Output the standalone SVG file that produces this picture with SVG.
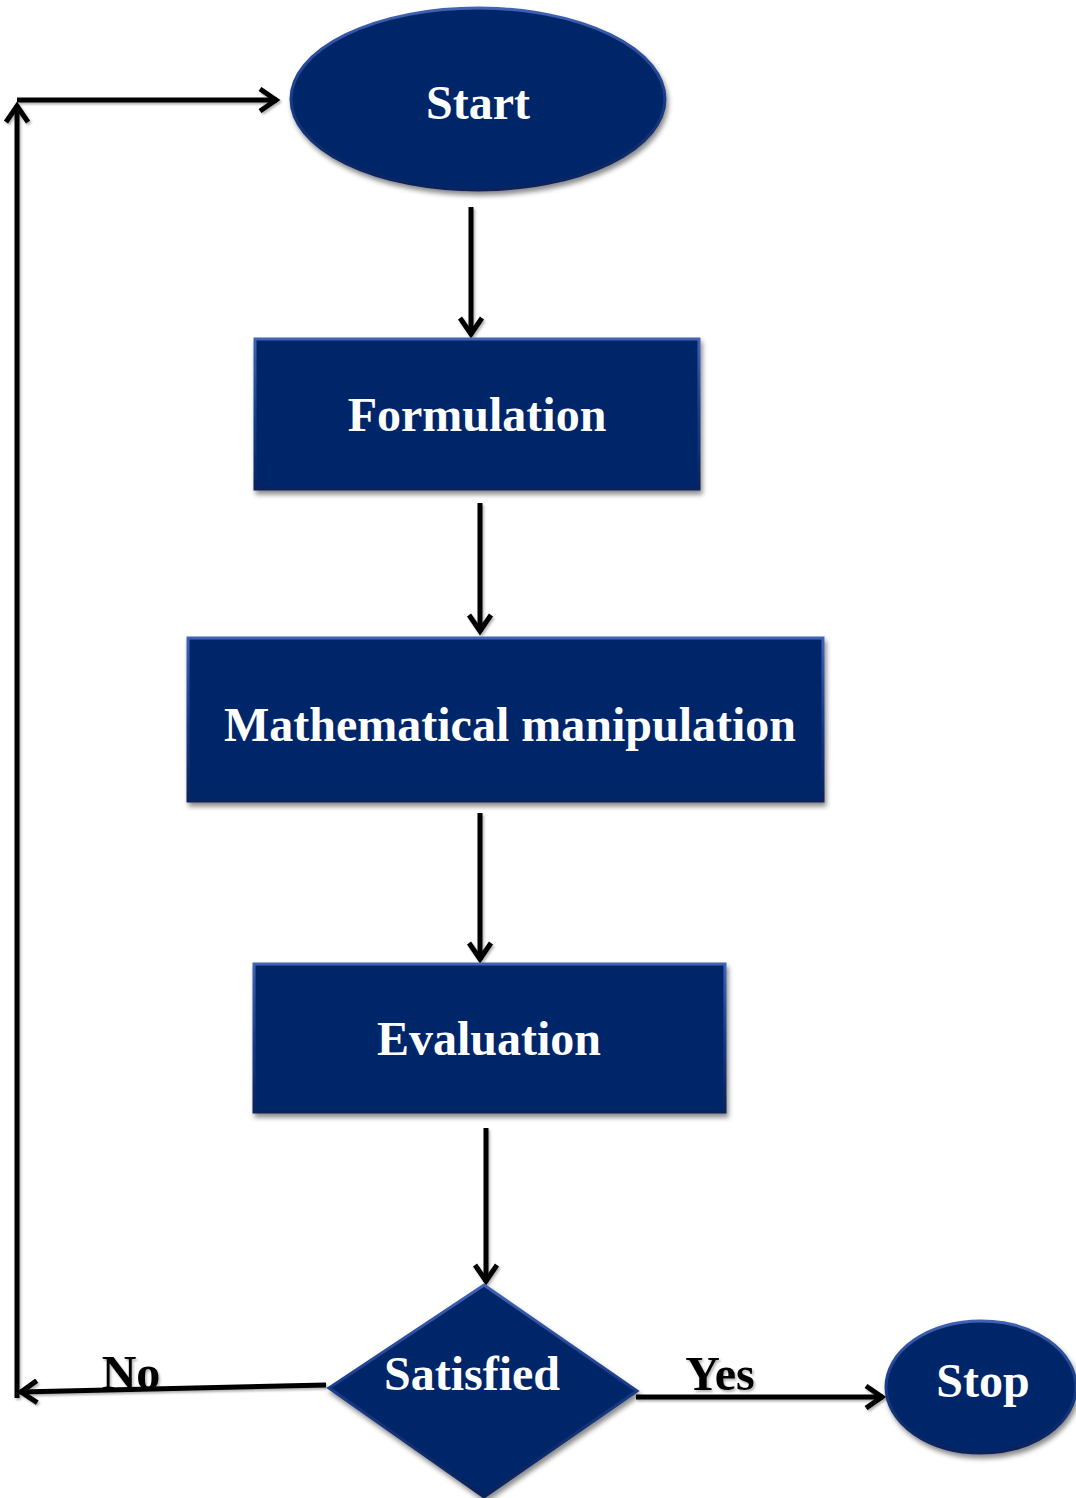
<svg xmlns="http://www.w3.org/2000/svg" width="1076" height="1498" viewBox="0 0 1076 1498">
  <defs>
    <filter id="shadow" x="-10%" y="-10%" width="120%" height="130%">
      <feDropShadow dx="2" dy="4" stdDeviation="2.5" flood-color="#000" flood-opacity="0.45"/>
    </filter>
    <filter id="lshadow" x="-20%" y="-20%" width="140%" height="140%">
      <feDropShadow dx="1.5" dy="2" stdDeviation="1.2" flood-color="#000" flood-opacity="0.3"/>
    </filter>
    <linearGradient id="bevel" x1="0" y1="0" x2="0" y2="1">
      <stop offset="0" stop-color="#3f63b4"/>
      <stop offset="0.5" stop-color="#1a3c88"/>
      <stop offset="1" stop-color="#0a2258"/>
    </linearGradient>
    <marker id="arrow" viewBox="0 0 26 26" refX="22" refY="13" markerWidth="26" markerHeight="26" markerUnits="userSpaceOnUse" orient="auto">
      <path d="M5,2 L21,13 L5,24" fill="none" stroke="#000" stroke-width="5" stroke-linejoin="miter"/>
    </marker>
    <style>
      .node { fill: #06256a; stroke: url(#bevel); stroke-width: 3; filter: url(#shadow); }
      .label { font-family: "Liberation Serif", "Times New Roman", serif; font-weight: bold; font-size: 48px; fill: #ffffff; text-anchor: middle; }
      .elabel { font-family: "Liberation Serif", "Times New Roman", serif; font-weight: bold; font-size: 48px; fill: #000000; text-anchor: middle; }
      .conn { fill: none; stroke: #000; stroke-width: 5; marker-end: url(#arrow); }
    </style>
  </defs>

  <g id="connectors" filter="url(#lshadow)">
    <line class="conn" x1="471" y1="207" x2="471" y2="335"/>
    <line class="conn" x1="480" y1="503" x2="480" y2="632"/>
    <line class="conn" x1="480" y1="813" x2="480" y2="960"/>
    <line class="conn" x1="486" y1="1128" x2="486" y2="1282"/>
    <line class="conn" x1="326" y1="1385" x2="20" y2="1392"/>
    <line class="conn" x1="17" y1="1398" x2="17" y2="105"/>
    <line class="conn" x1="17" y1="100" x2="277" y2="100"/>
    <line class="conn" x1="636" y1="1397" x2="883" y2="1397"/>
    <text class="elabel" x="131" y="1389">No</text>
    <text class="elabel" x="720" y="1390">Yes</text>
  </g>

  <g id="node-start">
    <ellipse class="node" cx="478" cy="99" rx="187" ry="91"/>
    <text class="label" x="478" y="119">Start</text>
  </g>

  <g id="node-formulation">
    <rect class="node" x="255" y="339" width="444" height="150"/>
    <text class="label" x="477" y="431">Formulation</text>
  </g>

  <g id="node-math">
    <rect class="node" x="188" y="638" width="635" height="163"/>
    <text class="label" x="510" y="741">Mathematical manipulation</text>
  </g>

  <g id="node-evaluation">
    <rect class="node" x="254" y="964" width="471" height="148"/>
    <text class="label" x="489" y="1055">Evaluation</text>
  </g>

  <g id="node-satisfied">
    <polygon class="node" points="484,1285 637,1391 484,1497 329,1388"/>
    <text class="label" x="472" y="1390">Satisfied</text>
  </g>

  <g id="node-stop">
    <ellipse class="node" cx="981" cy="1387" rx="95" ry="66"/>
    <text class="label" x="983" y="1397">Stop</text>
  </g>
</svg>
